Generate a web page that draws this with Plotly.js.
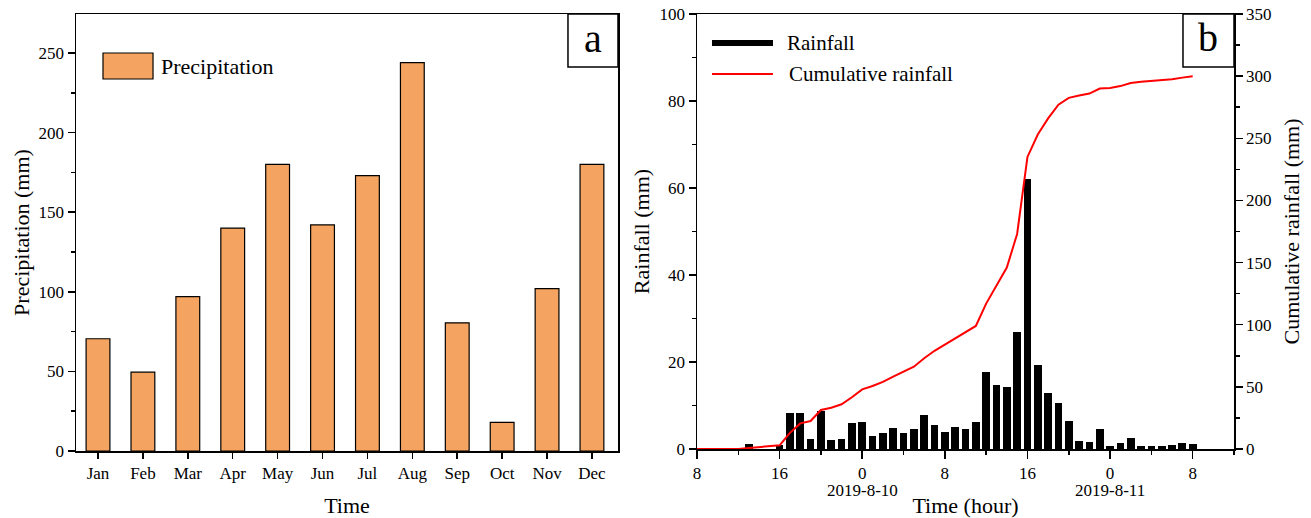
<!DOCTYPE html>
<html>
<head>
<meta charset="utf-8">
<script src="https://cdn.plot.ly/plotly-3.0.1.min.js"></script>
<style>html,body{margin:0;padding:0;background:#fff;}#chart{width:1311px;height:518px;}</style>
</head>
<body>
<div id="chart"></div>
<script>
// Panel a: monthly precipitation
const months = ['Jan','Feb','Mar','Apr','May','Jun','Jul','Aug','Sep','Oct','Nov','Dec'];
const precipitation = [70.5, 49.5, 97, 140, 180, 142, 173, 244, 80.5, 18, 102, 180];

// Panel b: hourly rainfall, hours counted from 2019-8-9 08:00
const rainHours = [0,1,2,3,4,5,6,7,8,9,10,11,12,13,14,15,16,17,18,19,20,21,22,23,24,25,26,27,28,29,30,31,32,33,34,35,36,37,38,39,40,41,42,43,44,45,46,47,48];
const rainfall = [0,0,0,0,0,1.2,0,0,1.0,8.2,8.3,2.4,8.8,2.1,2.4,5.9,6.2,2.9,3.7,4.9,3.7,4.6,7.8,5.5,4.0,5.0,4.6,6.2,17.6,14.7,14.3,27,62,19.2,12.9,10.5,6.4,1.8,1.5,4.7,0.6,1.3,2.5,0.8,0.8,0.6,1.0,1.4,1.2];
const cumulative = [0,0,0,0,0,0.8,1.5,1.8,3,13,20.6,22.5,31.4,33.2,36,41.6,48,50.7,54,58.2,62,66.2,73,79,84,89,94,99,117,132,146,173,235,253,266,277,282.5,284.5,286,290,290.5,292,294.5,295.5,296,296.8,297.5,298.8,300];
const hourTickVals = [0,8,16,24,32,40,48];
const hourTickText = ['8','16','0','8','16','0','8'];
const dateLabels = ['2019-8-10','2019-8-11'];
const dateLabelHours = [16,40];

const F = 'Liberation Serif, Times New Roman, serif';
const tickFont = {family: F, size: 17, color: '#000'};
const titleFont = {family: F, size: 22, color: '#000'};

const traces = [
  {type:'bar', x: months, y: precipitation, name:'Precipitation', xaxis:'x', yaxis:'y',
   width: 0.53, marker:{color:'#F4A460', line:{color:'#000', width:1.2}}, showlegend:false},
  {type:'bar', x: rainHours, y: rainfall, name:'Rainfall', xaxis:'x2', yaxis:'y2',
   width: 0.75, marker:{color:'#000', line:{width:0}}, showlegend:false},
  {type:'scatter', mode:'lines', x: rainHours, y: cumulative, name:'Cumulative rainfall', xaxis:'x2', yaxis:'y3',
   line:{color:'#FF0000', width:2}, showlegend:false}
];

const axisCommon = {showline:true, linecolor:'#000', linewidth:1.5, ticks:'outside', tickcolor:'#000', tickwidth:1.5,
  showgrid:false, zeroline:false, tickfont: tickFont};

const layout = {
  width:1311, height:518,
  margin:{l:0, r:0, t:14, b:67},
  paper_bgcolor:'#fff', plot_bgcolor:'#fff',
  bargap:0,
  xaxis: Object.assign({}, axisCommon, {domain:[76/1311, 618/1311], anchor:'y', type:'category',
    range:[-0.49, 11.58], ticklen:6, mirror:true,
    title:{text:'Time', font:titleFont, standoff:19}}),
  yaxis: Object.assign({}, axisCommon, {domain:[0,1], anchor:'x', range:[0, 274.5], dtick:50, ticklen:7, mirror:true,
    minor:{dtick:25, ticklen:4, ticks:'outside', tickcolor:'#000', tickwidth:1.5},
    title:{text:'Precipitation (mm)', font:titleFont, standoff:3}}),
  xaxis2: Object.assign({}, axisCommon, {domain:[697/1311, 1234/1311], anchor:'y2', range:[0,52],
    tickmode:'array', tickvals:hourTickVals, ticktext:hourTickText, ticklen:8, mirror:true,
    minor:{tick0:0, dtick:4, ticklen:4, ticks:'outside', tickcolor:'#000', tickwidth:1.5},
    title:{text:'Time (hour)', font:titleFont, standoff:37}}),
  yaxis2: Object.assign({}, axisCommon, {domain:[2/437, 1], anchor:'x2', range:[0,100], dtick:20, ticklen:7,
    minor:{dtick:10, ticklen:4, ticks:'outside', tickcolor:'#000', tickwidth:1.5},
    title:{text:'Rainfall (mm)', font:titleFont, standoff:4}}),
  yaxis3: Object.assign({}, axisCommon, {domain:[2/437, 1], anchor:'x2', overlaying:'y2', side:'right', range:[0,350], dtick:50, ticklen:7,
    minor:{dtick:25, ticklen:4, ticks:'outside', tickcolor:'#000', tickwidth:1.5},
    title:{text:'Cumulative rainfall (mm)', font:titleFont, standoff:13}}),
  shapes:[
    // panel label boxes
    {type:'rect', xref:'x domain', yref:'y domain', x0:0.9077, x1:1, y0:0.8787, y1:1, line:{color:'#000', width:1.5}, fillcolor:'rgba(0,0,0,0)'},
    {type:'rect', xref:'x2 domain', yref:'y2 domain', x0:0.905, x1:1, y0:0.878, y1:1, line:{color:'#000', width:1.5}, fillcolor:'rgba(0,0,0,0)'},
    // legend a
    {type:'rect', xref:'x domain', yref:'y domain', x0:0.0498, x1:0.1421, y0:0.8513, y1:0.9108, line:{color:'#000', width:1.2}, fillcolor:'#F4A460'},
    // legend b
    {type:'line', xref:'x2 domain', yref:'y2 domain', x0:0.0279, x1:0.1415, y0:0.9333, y1:0.9333, line:{color:'#000', width:6}},
    {type:'line', xref:'x2 domain', yref:'y2 domain', x0:0.0279, x1:0.1415, y0:0.862, y1:0.862, line:{color:'#FF0000', width:2}}
  ],
  annotations:[
    {text:'a', xref:'x domain', yref:'y domain', x:0.9538, y:0.945, showarrow:false, font:{family:F, size:40, color:'#000'}, xanchor:'center', yanchor:'middle'},
    {text:'b', xref:'x2 domain', yref:'y2 domain', x:0.9525, y:0.945, showarrow:false, font:{family:F, size:40, color:'#000'}, xanchor:'center', yanchor:'middle'},
    {text:'Precipitation', xref:'x domain', yref:'y domain', x:0.1531, y:0.881, showarrow:false, xanchor:'left', yanchor:'middle', font:{family:F, size:22, color:'#000'}},
    {text:traces[1].name, xref:'x2 domain', yref:'y2 domain', x:0.1639, y:0.9333, showarrow:false, xanchor:'left', yanchor:'middle', font:{family:F, size:21, color:'#000'}},
    {text:traces[2].name, xref:'x2 domain', yref:'y2 domain', x:0.1676, y:0.862, showarrow:false, xanchor:'left', yanchor:'middle', font:{family:F, size:21, color:'#000'}},
    {text:dateLabels[0], xref:'x2', yref:'paper', x:dateLabelHours[0], y:(451-491)/437, showarrow:false, xanchor:'center', yanchor:'middle', font:tickFont},
    {text:dateLabels[1], xref:'x2', yref:'paper', x:dateLabelHours[1], y:(451-491)/437, showarrow:false, xanchor:'center', yanchor:'middle', font:tickFont}
  ]
};

Plotly.newPlot('chart', traces, layout, {displayModeBar:false, staticPlot:true});
</script>
</body>
</html>
